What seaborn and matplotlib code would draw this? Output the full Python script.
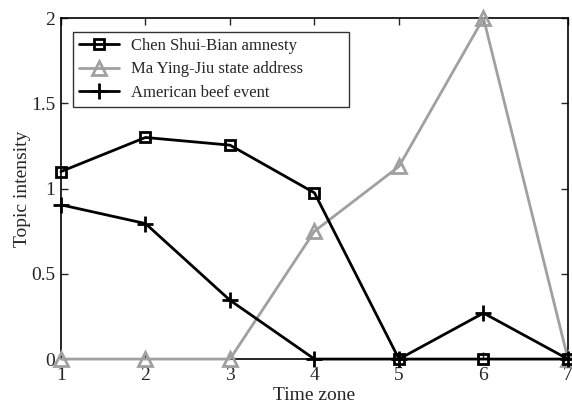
import matplotlib
matplotlib.use("Agg")
import matplotlib.pyplot as plt
import seaborn as sns
import pandas as pd

time_zone = [1, 2, 3, 4, 5, 6, 7]
chen = [1.10, 1.30, 1.255, 0.975, 0, 0, 0]
ma = [0, 0, 0, 0.75, 1.13, 2.0, 0]
beef = [0.905, 0.795, 0.345, 0, 0, 0.27, 0]
labels = ["Chen Shui-Bian amnesty", "Ma Ying-Jiu state address", "American beef event"]

sns.set_style("ticks")
plt.rcParams['font.family'] = ['Liberation Serif', 'DejaVu Serif']

fig = plt.figure(figsize=(5.72, 4.03), dpi=100)
ax = fig.add_axes([0.1066, 0.109, 0.8864, 0.846])

series = [(chen, labels[0], 'black', 's', 7.5, 'none', 4),
          (ma, labels[1], '#a0a0a0', '^', 9.5, 'none', 3),
          (beef, labels[2], 'black', '+', 12, 'black', 4)]
for vals, lab, col, mk, ms, mfc, z in series:
    df = pd.DataFrame({"x": time_zone, "y": vals})
    sns.lineplot(data=df, x="x", y="y", ax=ax, color=col, marker=mk, markersize=ms,
                 markerfacecolor=mfc, markeredgecolor=col, markeredgewidth=2,
                 linewidth=2, label=lab, clip_on=False, zorder=z)

ax.set_xlim(1, 7)
ax.set_ylim(0, 2)
ax.set_xticks(time_zone)
ax.set_xticklabels([str(t) for t in time_zone])
ax.set_yticks([0, 0.5, 1, 1.5, 2])
ax.set_yticklabels(["0", "0.5", "1", "1.5", "2"])
ax.tick_params(direction='in', top=True, right=True, labelsize=14, length=5, width=1)
ax.tick_params(axis='x', pad=6)
ax.tick_params(axis='y', pad=4)
for s in ax.spines.values():
    s.set_linewidth(1.2)
    s.set_color('black')
ax.set_xlabel("Time zone", fontsize=14, labelpad=2)
ax.set_ylabel("Topic intensity", fontsize=14, labelpad=0)

leg = ax.legend(loc='upper left', bbox_to_anchor=(0.024, 0.5, 0.544, 0.459), mode='expand',
                fontsize=12, frameon=True,
                fancybox=False, edgecolor='black', handlelength=2.4, borderpad=0.35,
                labelspacing=0.45, handletextpad=0.75, borderaxespad=0)
leg.get_frame().set_linewidth(1)

fig.savefig("out.png", dpi=100)
